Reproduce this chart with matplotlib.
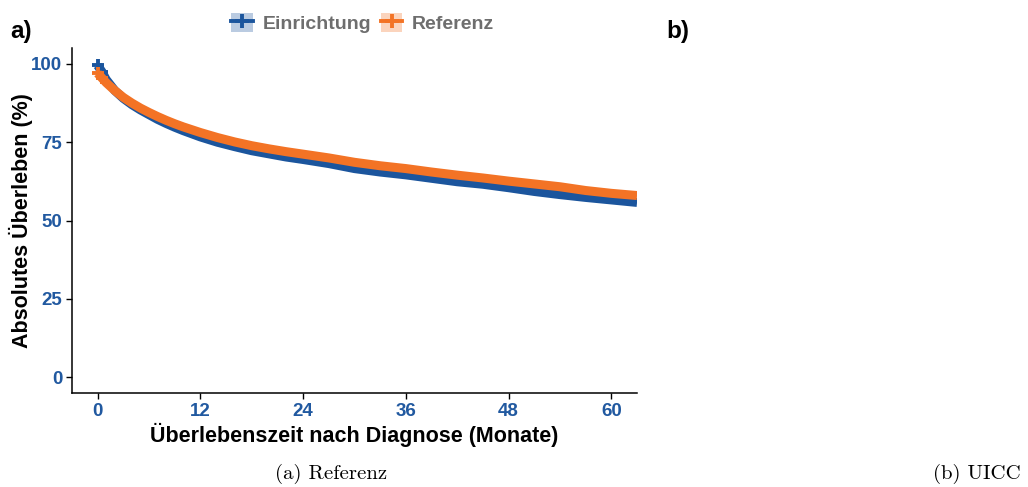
import numpy as np
import matplotlib.pyplot as plt
from matplotlib.lines import Line2D
from matplotlib.patches import Patch
from matplotlib.legend_handler import HandlerTuple

# Kaplan-Meier Verlauf (Monate, Ueberleben in %)
monate = [0, 0.5, 1, 2, 3, 4, 5, 6, 7, 8, 9, 10, 11, 12, 14, 16, 18, 20, 22, 24,
          27, 30, 33, 36, 39, 42, 45, 48, 51, 54, 57, 60, 63]
einrichtung = [99.5, 97.5, 95, 91.5, 89, 87, 85.3, 83.8, 82.3, 81, 79.8, 78.7, 77.7,
               76.7, 75, 73.6, 72.3, 71.3, 70.3, 69.5, 68.2, 66.6, 65.5, 64.6, 63.5,
               62.4, 61.6, 60.5, 59.3, 58.3, 57.4, 56.6, 55.8]
referenz = [97, 95.5, 94, 91.5, 89.3, 87.5, 85.9, 84.5, 83.2, 82, 80.9, 79.9, 79,
            78.1, 76.5, 75.1, 73.9, 72.9, 72, 71.2, 70, 68.6, 67.5, 66.6, 65.5, 64.5,
            63.6, 62.6, 61.7, 60.8, 59.6, 58.7, 58]

gruppen = ["Einrichtung", "Referenz"]
farben = ["#1B559D", "#F37325"]
xticks = [0, 12, 24, 36, 48, 60]
yticks = [0, 25, 50, 75, 100]

sans = ["Liberation Sans", "DejaVu Sans"]
blau_text = "#2159A0"

fig = plt.figure(figsize=(10.28, 4.87), dpi=100)
ax = fig.add_axes([0.070, 0.193, 0.5497, 0.708])

for werte, farbe in zip([einrichtung, referenz], farben):
    ax.plot(monate, werte, color=farbe, lw=6.5, solid_capstyle="butt")
    # Zensierungszeichen am Anfang
    ax.plot(monate[:2], werte[:2], ls="none", marker="+", ms=9, mew=2.8, color=farbe)

ax.set_xlim(-3, 63)
ax.set_ylim(-5, 105)
ax.set_xticks(xticks)
ax.set_yticks(yticks)
for s in ["top", "right"]:
    ax.spines[s].set_visible(False)
for s in ["left", "bottom"]:
    ax.spines[s].set_linewidth(1.1)
ax.tick_params(length=4, width=1, colors="black", pad=3)
for lab in ax.get_xticklabels() + ax.get_yticklabels():
    lab.set_fontfamily(sans)
    lab.set_fontweight("bold")
    lab.set_fontsize(13.5)
    lab.set_color(blau_text)

ax.set_xlabel("Überlebenszeit nach Diagnose (Monate)", fontfamily=sans,
              fontweight="bold", fontsize=15.5, labelpad=2)
ax.set_ylabel("Absolutes Überleben (%)", fontfamily=sans, fontweight="bold",
              fontsize=15.5, labelpad=-1)

# Legende oben mittig
handles = []
for farbe in farben:
    handles.append((Patch(facecolor=farbe, alpha=0.3, edgecolor="none"),
                    Line2D([], [], color=farbe, marker="+", ms=10, mew=2.8, lw=2.8)))
leg = fig.legend(handles, gruppen, loc="center", bbox_to_anchor=(0.353, 0.953),
                 ncol=2, frameon=False, handlelength=1.1, handleheight=1.1,
                 handletextpad=0.5, columnspacing=0.5,
                 handler_map={tuple: HandlerTuple(ndivide=1)},
                 prop={"family": sans, "weight": "bold", "size": 14})
for t in leg.get_texts():
    t.set_color("#6E6E6E")

fig.text(0.010, 0.936, "a)", fontfamily=sans, fontweight="bold", fontsize=17.5,
         va="center")
fig.text(0.648, 0.936, "b)", fontfamily=sans, fontweight="bold", fontsize=17.5,
         va="center")
fig.text(0.3225, 0.006, "(a) Referenz", fontfamily="cmr10", fontsize=15,
         ha="center", va="bottom")
fig.text(0.950, 0.006, "(b) UICC", fontfamily="cmr10", fontsize=15,
         ha="center", va="bottom")

fig.savefig("out.png", dpi=100)
